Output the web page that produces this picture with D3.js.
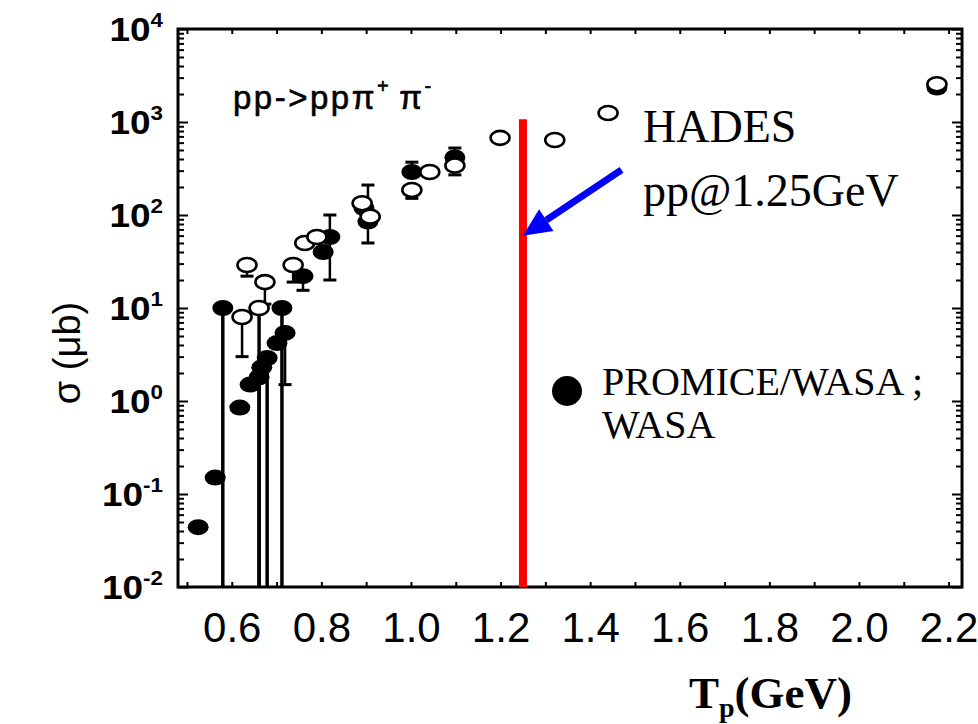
<!DOCTYPE html>
<html><head><meta charset="utf-8">
<script src="https://cdn.jsdelivr.net/npm/d3@7"></script>
<style>html,body{margin:0;padding:0;background:#fff;} svg{display:block;}</style>
</head><body>
<svg id="chart" width="978" height="724"></svg>
<script>
// pp -> pp pi+ pi- total cross section sigma (microbarn) vs beam kinetic energy T_p (GeV)

// Filled circles (PROMICE/WASA ; WASA)
const filledT     = [0.525, 0.563, 0.580, 0.618, 0.641, 0.661, 0.667, 0.679, 0.701, 0.712, 0.719, 0.759, 0.804, 0.819, 0.895, 0.904, 1.002, 1.098, 2.174];
const filledSigma = [0.044, 0.15,  10,    0.85,  1.5,   1.8,   2.3,   2.9,   4.2,   10,    5.4,   22,    40,    58,    119,   85,    290,   416,   2350];
const filledLow   = [null,  null,  0.01,  null,  null,  0.01,  null,  0.01,  null,  0.01,  1.5,   15.5,  null,  20,    null,  50,    null,  null,  null];
const filledHigh  = [null,  null,  null,  null,  null,  null,  null,  null,  null,  null,  null,  null,  null,  100,   null,  210,   370,   525,   null];

// Open circles
const openT     = [0.623, 0.634, 0.661, 0.674, 0.737, 0.763, 0.790, 0.891, 0.909, 1.002, 1.042, 1.098, 1.199, 1.321, 1.440, 2.174];
const openSigma = [8,     29,    10,    19,    29,    50,    58,    134,   96,    186,   290,   340,   675,   640,   1250,  2550];
const openLow   = [3,     22,    0.01,  11,    19,    null,  null,  null,  null,  151,   null,  270,   null,  null,  null,  null];

// HADES beam energy marker and the arrow pointing at it
const hadesT = 1.25;
const hadesTop = 1070;
const arrowTail = [1.47, 305];
const arrowTip = [1.25, 60];

// Axis ticks
const xTickLabels = [0.6, 0.8, 1.0, 1.2, 1.4, 1.6, 1.8, 2.0, 2.2];
const yExponents = [-2, -1, 0, 1, 2, 3, 4];

const svg = d3.select("#chart");
const L = 178, R = 962, T = 29, B = 587;

const x = d3.scaleLinear().domain([0.48, 2.23]).range([L, R]);
const y = d3.scaleLog().domain([1e-2, 1e4]).range([B, T]);

const sans = "'Liberation Sans', Arial, sans-serif";
const serif = "'Liberation Serif', 'Times New Roman', serif";

// ---- ticks ----
const xMinor = d3.range(5, 23).map(i => i / 10);
const yMajor = yExponents.map(e => Math.pow(10, e));
const yMinor = [];
for (let e = -2; e < 4; e++) for (let m = 2; m <= 9; m++) yMinor.push(m * Math.pow(10, e));

function styleAxis(g) {
  g.select(".domain").remove();
  g.selectAll("line").attr("stroke", "#000").attr("stroke-width", 2);
}
svg.append("g").attr("transform", `translate(0,${B})`)
  .call(d3.axisTop(x).tickValues(xMinor).tickSize(5).tickFormat("")).call(styleAxis);
svg.append("g").attr("transform", `translate(0,${T})`)
  .call(d3.axisBottom(x).tickValues(xMinor).tickSize(5).tickFormat("")).call(styleAxis);
svg.append("g").attr("transform", `translate(${L},0)`)
  .call(d3.axisRight(y).tickValues(yMajor).tickSize(10).tickFormat("")).call(styleAxis);
svg.append("g").attr("transform", `translate(${L},0)`)
  .call(d3.axisRight(y).tickValues(yMinor).tickSize(6).tickFormat("")).call(styleAxis);
svg.append("g").attr("transform", `translate(${R},0)`)
  .call(d3.axisLeft(y).tickValues(yMajor).tickSize(10).tickFormat("")).call(styleAxis);
svg.append("g").attr("transform", `translate(${R},0)`)
  .call(d3.axisLeft(y).tickValues(yMinor).tickSize(6).tickFormat("")).call(styleAxis);

// x tick labels
const xLab = svg.append("g").attr("transform", `translate(0,${B})`)
  .call(d3.axisBottom(x).tickValues(xTickLabels).tickSize(0).tickFormat(d3.format(".1f")));
xLab.select(".domain").remove();
xLab.selectAll("text")
  .attr("y", 55).attr("dy", null)
  .attr("font-family", sans).attr("font-size", 42).attr("fill", "#000");

// y tick labels: 10 with superscript exponent
const yLab = svg.append("g").selectAll("g").data(yExponents).join("g")
  .attr("transform", e => `translate(163,${y(Math.pow(10, e)) + 12}) scale(1.12,1)`);
const yText = yLab.append("text")
  .attr("text-anchor", "end")
  .attr("font-family", sans).attr("font-weight", "bold").attr("font-size", 33).attr("fill", "#000");
yText.append("tspan").text("10");
yText.append("tspan").attr("dy", -14).attr("font-size", 20).text(e => String(e));

// ---- error bars ----
const cap = 6.5;
function errorBars(tArr, sArr, loArr, hiArr) {
  const rows = tArr.map((t, i) => ({t, s: sArr[i], lo: loArr[i], hi: hiArr ? hiArr[i] : null}))
    .filter(d => d.lo !== null || d.hi !== null);
  const g = svg.append("g").attr("stroke", "#000").attr("stroke-width", 2.5);
  rows.forEach(d => {
    const lo = d.lo !== null ? d.lo : d.s;
    const hi = d.hi !== null ? d.hi : d.s;
    const cx = x(d.t);
    g.append("line").attr("x1", cx).attr("x2", cx).attr("y1", y(lo)).attr("y2", y(hi))
      .attr("stroke-width", d.lo === 0.01 ? 3.5 : 2.5);
    if (d.lo !== null && d.lo > 0.01)
      g.append("line").attr("x1", cx - cap).attr("x2", cx + cap).attr("y1", y(d.lo)).attr("y2", y(d.lo)).attr("stroke-width", 3);
    if (d.hi !== null)
      g.append("line").attr("x1", cx - cap).attr("x2", cx + cap).attr("y1", y(d.hi)).attr("y2", y(d.hi)).attr("stroke-width", 3);
  });
}
errorBars(filledT, filledSigma, filledLow, filledHigh);
errorBars(openT, openSigma, openLow, null);

// ---- markers ----
svg.append("g").selectAll("ellipse").data(filledT.map((t, i) => [t, filledSigma[i]])).join("ellipse")
  .attr("cx", d => x(d[0])).attr("cy", d => y(d[1]))
  .attr("rx", 10.5).attr("ry", 8).attr("fill", "#000");

svg.append("g").selectAll("ellipse").data(openT.map((t, i) => [t, openSigma[i]])).join("ellipse")
  .attr("cx", d => x(d[0])).attr("cy", d => y(d[1]))
  .attr("rx", 9.5).attr("ry", 7).attr("fill", "#fff").attr("stroke", "#000").attr("stroke-width", 2.6);

// ---- frame ----
svg.append("rect").attr("x", L).attr("y", T).attr("width", R - L).attr("height", B - T)
  .attr("fill", "none").attr("stroke", "#000").attr("stroke-width", 3);

// reaction label
const react = svg.append("text").attr("x", 233).attr("y", 109)
  .attr("font-family", sans).attr("font-size", 33).attr("letter-spacing", 2.5)
  .attr("fill", "#000").attr("stroke", "#000").attr("stroke-width", 0.6);
react.append("tspan").text("pp->pp\u03c0");
react.append("tspan").attr("dy", -16).attr("font-size", 20).text("+");
react.append("tspan").attr("dy", 16).attr("dx", 8).text("\u03c0");
react.append("tspan").attr("dy", -16).attr("font-size", 20).text("-");

// ---- HADES marker ----
svg.append("line")
  .attr("x1", x(hadesT)).attr("x2", x(hadesT))
  .attr("y1", y(1e-2)).attr("y2", y(hadesTop))
  .attr("stroke", "#ff0000").attr("stroke-width", 8);

// arrow
(function () {
  const x0 = x(arrowTail[0]), y0 = y(arrowTail[1]);
  const x1 = x(arrowTip[0]), y1 = y(arrowTip[1]);
  const ang = Math.atan2(y1 - y0, x1 - x0);
  const headLen = 28, headHalf = 13;
  const bx = x1 - headLen * Math.cos(ang), by = y1 - headLen * Math.sin(ang);
  svg.append("line").attr("x1", x0).attr("y1", y0).attr("x2", bx).attr("y2", by)
    .attr("stroke", "#0000ff").attr("stroke-width", 7);
  const px = -Math.sin(ang), py = Math.cos(ang);
  svg.append("path")
    .attr("d", `M${x1},${y1}L${bx + px * headHalf},${by + py * headHalf}L${bx - px * headHalf},${by - py * headHalf}Z`)
    .attr("fill", "#0000ff");
})();

svg.append("text").attr("x", 643).attr("y", 142)
  .attr("font-family", serif).attr("font-size", 46).attr("fill", "#000").text("HADES");
svg.append("text").attr("x", 643).attr("y", 206)
  .attr("font-family", serif).attr("font-size", 46).attr("fill", "#000").text("pp@1.25GeV");

// legend
svg.append("circle").attr("cx", 567).attr("cy", 391).attr("r", 15).attr("fill", "#000");
svg.append("text").attr("x", 602).attr("y", 395)
  .attr("font-family", serif).attr("font-size", 40).attr("fill", "#000").text("PROMICE/WASA ;");
svg.append("text").attr("x", 602).attr("y", 438)
  .attr("font-family", serif).attr("font-size", 40).attr("fill", "#000").text("WASA");

// axis titles
const xt = svg.append("text").attr("x", 689).attr("y", 708)
  .attr("font-family", serif).attr("font-weight", "bold").attr("font-size", 45).attr("fill", "#000");
xt.append("tspan").text("T");
xt.append("tspan").attr("dy", 9).attr("font-size", 28).text("p");
xt.append("tspan").attr("dy", -9).text("(GeV)");

svg.append("text")
  .attr("transform", "translate(80,353) rotate(-90)")
  .attr("text-anchor", "middle")
  .attr("font-family", sans).attr("font-size", 38).attr("fill", "#000")
  .text("\u03c3 (\u03bcb)");
</script>
</body></html>
